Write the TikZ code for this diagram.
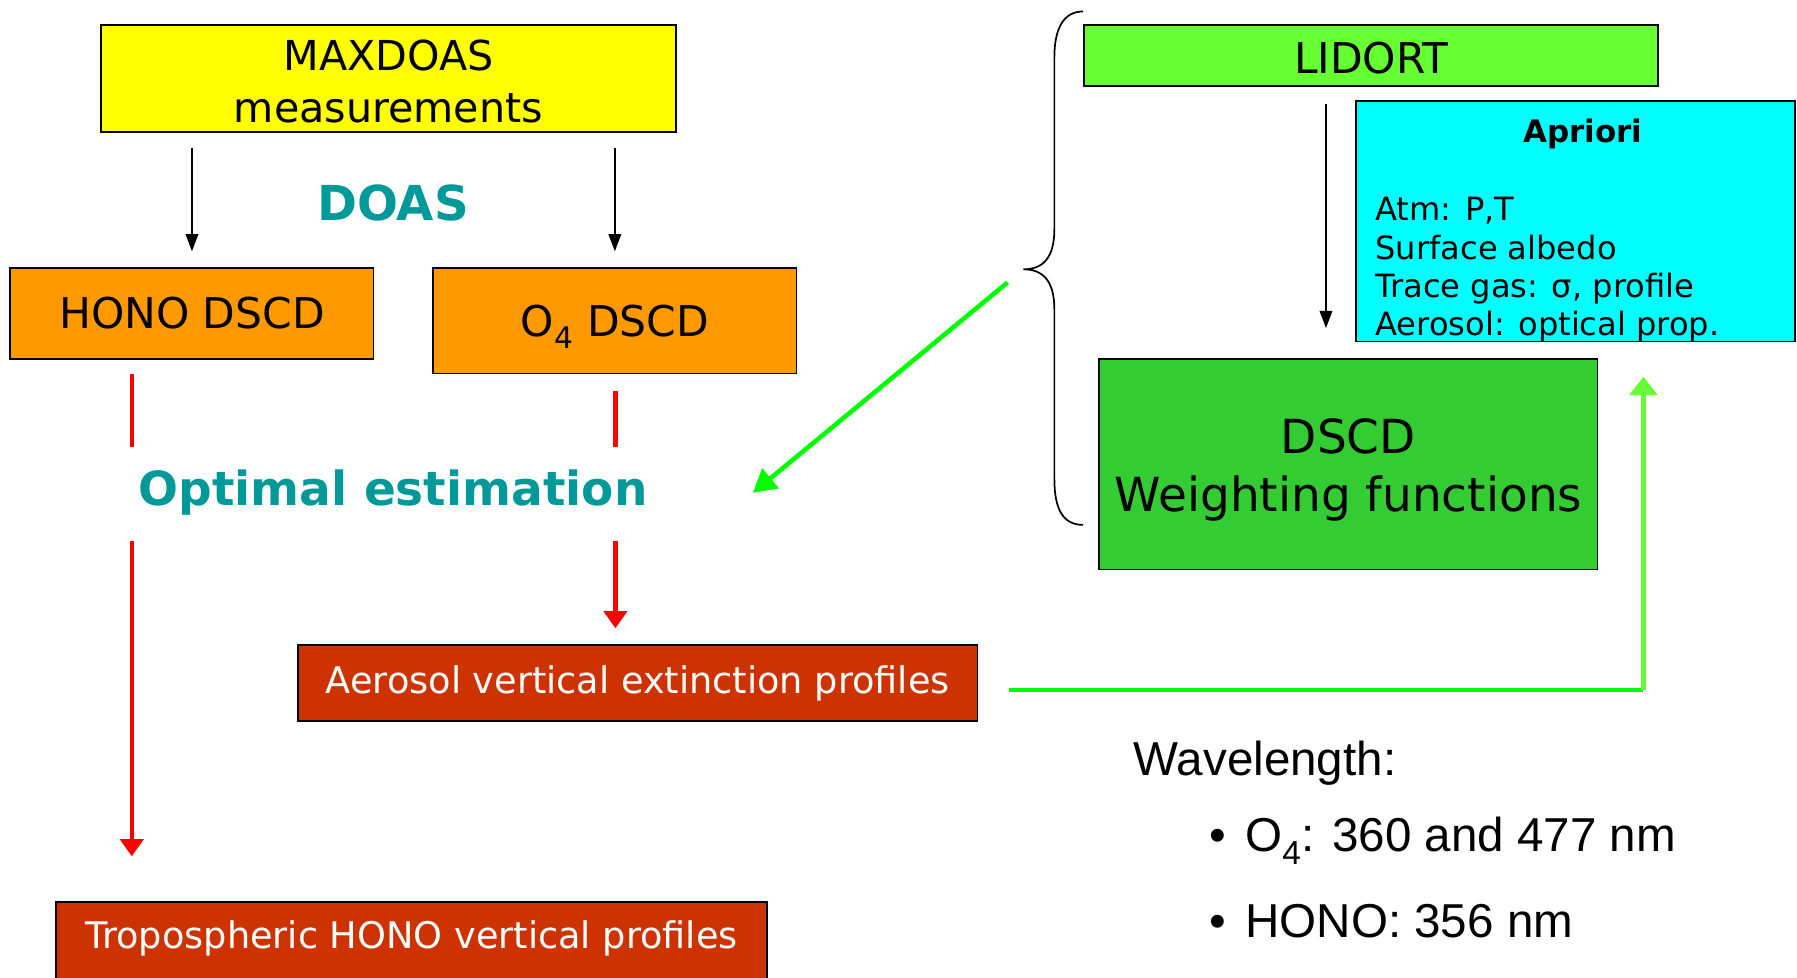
\documentclass[tikz,border=0pt]{standalone}
\usepackage{fontspec}
\setmainfont{DejaVu Sans}
\newfontfamily\arialf{Liberation Sans}
\usetikzlibrary{arrows.meta,calc}
\definecolor{myyellow}{HTML}{FFFF00}
\definecolor{myorange}{HTML}{FF9900}
\definecolor{mybrick}{HTML}{CC3300}
\definecolor{mylgreen}{HTML}{66FF33}
\definecolor{mydgreen}{HTML}{33CC33}
\definecolor{mycyan}{HTML}{00FFFF}
\definecolor{myteal}{HTML}{009999}
\definecolor{myred}{HTML}{FF0000}
\definecolor{mygreen}{HTML}{00FF00}
\begin{document}
\begin{tikzpicture}[x=1pt,y=-1pt,
  box/.style={draw=black,line width=1.5pt,rectangle,inner sep=0pt,align=center},
  txt/.style={inner sep=0pt,align=center},
  tealtxt/.style={txt,text=myteal,font=\bfseries\fontsize{41}{49}\selectfont},
  blk/.style={draw=black,line width=1.5pt,-{Triangle[width=11pt,length=15pt]}},
  redl/.style={draw=myred,line width=4pt},
  reda/.style={redl,-{Triangle[width=20pt,length=15pt]}},
  grna/.style={draw=mygreen,line width=4pt,-{Triangle[width=22pt,length=20pt]}},
  grnl/.style={draw=mygreen,line width=4pt},
  lgrna/.style={draw=mylgreen,line width=4pt,-{Triangle[width=24pt,length=16pt]}},
  wave/.style={txt,anchor=west,font=\arialf\fontsize{41.5}{49}\selectfont}
]
\useasboundingbox (0,0) rectangle (1568,853);

% left column
\node[box,fill=myyellow,minimum width=502pt,minimum height=93pt] (maxdoas) at (339,68.5) {};
\node[txt,font=\fontsize{36}{45}\selectfont] (maxdoastxt) at (339,71) {MAXDOAS\\measurements};
\node[tealtxt,font=\bfseries\fontsize{42}{50}\selectfont] (doas) at (343,177) {DOAS};
\node[box,fill=myorange,minimum width=317pt,minimum height=79pt,font=\fontsize{37}{44}\selectfont] (hono) at (167.5,273.5) {HONO DSCD};
\node[box,fill=myorange,minimum width=317pt,minimum height=92pt] (o4) at (536.5,280) {};
\node[txt,font=\fontsize{37}{44}\selectfont] (o4txt) at (536.5,285) {O\textsubscript{4} DSCD};
\node[tealtxt] (opt) at (343,430) {Optimal estimation};
\node[box,fill=mybrick,text=white,minimum width=593pt,minimum height=66pt,font=\fontsize{32}{38}\selectfont] (aero) at (556.5,596) {Aerosol vertical extinction profiles};
\node[box,fill=mybrick,minimum width=620pt,minimum height=72pt] (tropo) at (359,823) {};
\node[txt,text=white,font=\fontsize{32}{38}\selectfont] (tropotxt) at (359,819) {Tropospheric HONO vertical profiles};

% right column
\node[box,fill=mylgreen,minimum width=501pt,minimum height=53pt] (lidort) at (1196.5,48.5) {};
\node[txt,font=\fontsize{37}{44}\selectfont] (lidorttxt) at (1196.5,50.5) {LIDORT};
\node[box,fill=mycyan,minimum width=383pt,minimum height=210pt] (apriori) at (1374.5,193) {};
\node[txt,font=\bfseries\fontsize{27}{33}\selectfont] (aptitle) at (1381,117) {Apriori};
\node[txt,anchor=west,align=left,font=\fontsize{28}{33.5}\selectfont] (aplist) at (1200,235.5) {Atm: P,T\\Surface albedo\\Trace gas: σ, profile\\Aerosol: optical prop.};
\node[box,fill=mydgreen,minimum width=435pt,minimum height=184pt] (wf) at (1176.5,405) {};
\node[txt,font=\fontsize{41}{51}\selectfont] (wftxt) at (1176.5,410) {DSCD\\Weighting functions};

% wavelength text
\node[wave] (wl) at (989,666) {Wavelength:};
\node[wave] (wl1) at (1055,734) {•\hspace{17pt}O\textsubscript{4}: 360 and 477 nm};
\node[wave] (wl2) at (1055,804) {•\hspace{17pt}HONO: 356 nm};

% brace
\coordinate (brtop) at (945,10);
\coordinate (brtip) at (893,235);
\coordinate (brbot) at (945,458);
\draw[line width=1.5pt] (brtop) .. controls (928,10) and (920,25) .. (920,50) -- (920,200)
  .. controls (920,225) and (910,235) .. (brtip)
  .. controls (910,235) and (920,245) .. (920,270) -- (920,418)
  .. controls (920,445) and (928,458) .. (brbot);

% black arrows
\coordinate (lx) at (1157,0);
\draw[blk,shorten <=13pt,shorten >=14pt] (maxdoas.south -| hono.north) -- (hono.north);
\draw[blk,shorten <=13pt,shorten >=14pt] (maxdoas.south -| o4.north) -- (o4.north);
\draw[blk,shorten <=15pt,shorten >=26pt] (lidort.south -| lx) -- (wf.north -| lx);

% red lines
\coordinate (h1) at (115,390);
\coordinate (h2) at (115,472);
\coordinate (o1) at (537,390);
\coordinate (o2) at (537,472);
\draw[redl,shorten <=13pt] (hono.south -| h1) -- (h1);
\draw[reda,shorten >=39pt] (h2) -- (tropo.north -| h2);
\draw[redl,shorten <=14pt] (o4.south -| o1) -- (o1);
\draw[reda,shorten >=14pt] (o2) -- (aero.north -| o2);

% green arrows
\coordinate (gend) at (657,430);
\draw[grna,shorten <=18pt] (brtip) -- (gend);
\coordinate (gcorner) at (1434,602);
\draw[grnl,shorten <=27pt] (aero.east |- gcorner) -- (gcorner);
\draw[lgrna,shorten >=30pt] (gcorner) -- (gcorner |- apriori.south);
\end{tikzpicture}
\end{document}
